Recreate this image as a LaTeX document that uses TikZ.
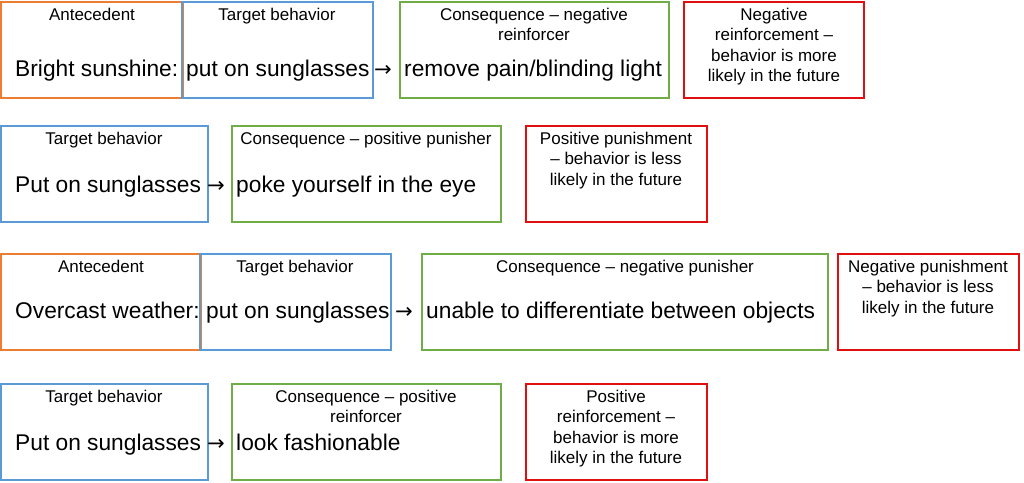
\documentclass[tikz,border=0pt]{standalone}
\usepackage{fontspec}
\setmainfont{Liberation Sans}
\newfontfamily\arrowfont{DejaVu Sans}
\usetikzlibrary{positioning}
\definecolor{antec}{RGB}{237,125,49}
\definecolor{behav}{RGB}{91,155,213}
\definecolor{conseq}{RGB}{112,173,71}
\definecolor{effect}{RGB}{224,16,16}
\tikzset{
  box/.style={draw=#1, line width=1.6pt},
  head/.style={anchor=north, align=center, font=\fontsize{14.5}{17.4}\selectfont, inner sep=0pt},
  main/.style={anchor=base west, font=\fontsize{19.4}{20}\selectfont, inner sep=0pt},
  arr/.style={anchor=base west, font=\arrowfont\fontsize{18}{20}\selectfont, inner sep=0pt}
}
\begin{document}
\begin{tikzpicture}[x=0.03cm, y=-0.03cm]
\useasboundingbox (0,0) rectangle (1024,483);

% Row 1
\draw[box=antec] (1,2) rectangle (183,98);
\draw[box=behav] (182,2) rectangle (373,98);
\draw[box=conseq] (400,2) rectangle (669,98);
\draw[box=effect] (684,2) rectangle (864,98);
\node[head] (a1) at (92,8) {Antecedent};
\node[head] (b1) at (277,8) {Target behavior};
\node[head] (c1) at (534,8) {Consequence -- negative\\reinforcer};
\node[head] (e1) at (774,8) {Negative\\reinforcement --\\behavior is more\\likely in the future};
\node[main] (ta1) at (15,77) {Bright sunshine:};
\node[main] (tb1) at (186,77) {put on sunglasses};
\node[arr] (ar1) at (374,77) {→};
\node[main] (tc1) at (404,77) {remove pain/blinding light};

% Row 2
\draw[box=behav] (1,126) rectangle (208,222);
\draw[box=conseq] (232,126) rectangle (501,222);
\draw[box=effect] (526,126) rectangle (707,222);
\node[head] (b2) at (104,132) {Target behavior};
\node[head] (c2) at (366,132) {Consequence -- positive punisher};
\node[head] (e2) at (616,132) {Positive punishment\\-- behavior is less\\likely in the future};
\node[main] (tb2) at (15,193) {Put on sunglasses};
\node[arr] (ar2) at (207,193) {→};
\node[main] (tc2) at (236,193) {poke yourself in the eye};

% Row 3
\draw[box=antec] (1,254) rectangle (201,350);
\draw[box=behav] (200,254) rectangle (391,350);
\draw[box=conseq] (422,254) rectangle (828,350);
\draw[box=effect] (838,254) rectangle (1019,350);
\node[head] (a3) at (101,260) {Antecedent};
\node[head] (b3) at (295,260) {Target behavior};
\node[head] (c3) at (625,260) {Consequence -- negative punisher};
\node[head] (e3) at (928,260) {Negative punishment\\-- behavior is less\\likely in the future};
\node[main] (ta3) at (15,319) {Overcast weather:};
\node[main] (tb3) at (206,319) {put on sunglasses};
\node[arr] (ar3) at (395,319) {→};
\node[main] (tc3) at (426,319) {unable to differentiate between objects};

% Row 4
\draw[box=behav] (1,384) rectangle (208,480);
\draw[box=conseq] (232,384) rectangle (501,480);
\draw[box=effect] (526,384) rectangle (707,480);
\node[head] (b4) at (104,390) {Target behavior};
\node[head] (c4) at (366,390) {Consequence -- positive\\reinforcer};
\node[head] (e4) at (616,390) {Positive\\reinforcement --\\behavior is more\\likely in the future};
\node[main] (tb4) at (15,450) {Put on sunglasses};
\node[arr] (ar4) at (207,450) {→};
\node[main] (tc4) at (236,450) {look fashionable};
\end{tikzpicture}
\end{document}
